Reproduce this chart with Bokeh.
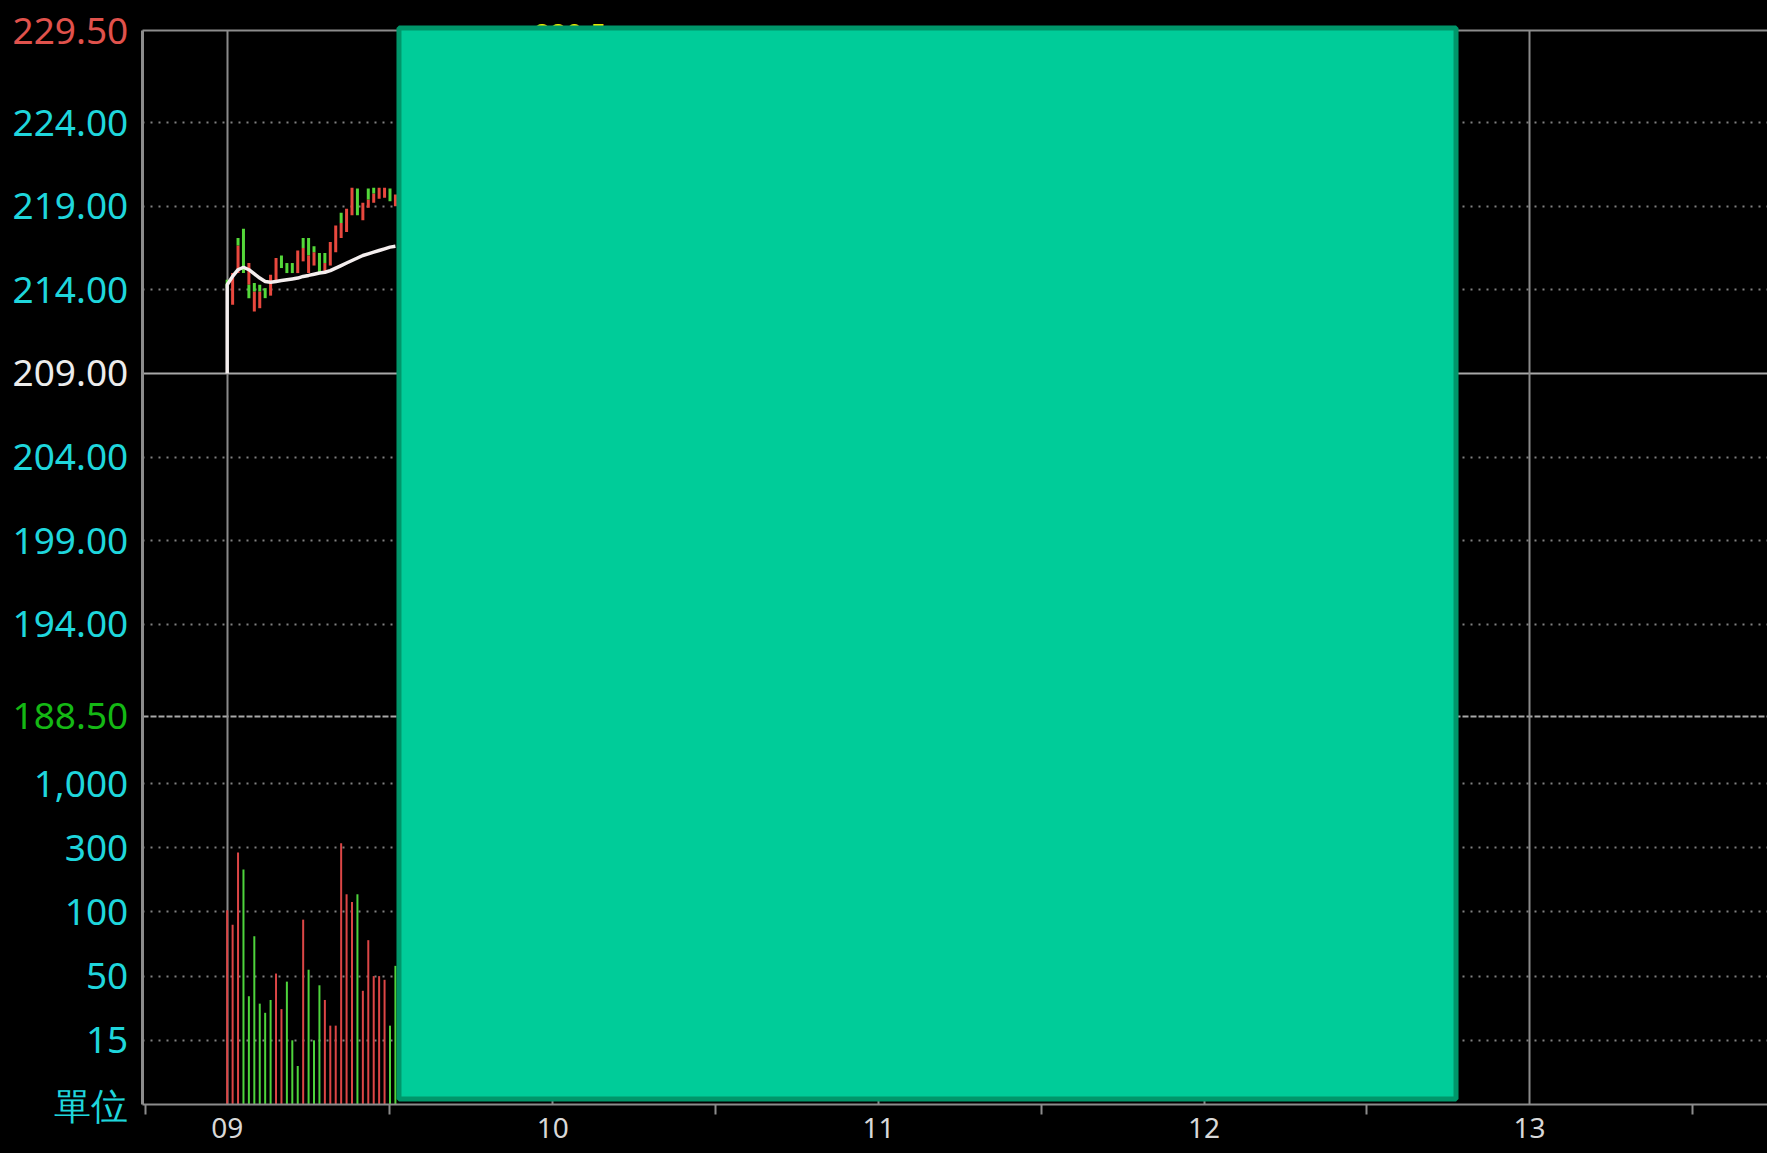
import numpy as np
from bokeh.plotting import figure
from bokeh.models import (Range1d, LinearAxis, FixedTicker, Grid, ColumnDataSource,
                          GlobalInlineStyleSheet)
from bokeh.core.properties import value
from bokeh.embed import file_html
from bokeh.resources import INLINE

# ---------------- data ----------------
ref_price = 209.00
limit_up = 229.50
limit_down = 188.50
price_grid_ticks = [224.00, 219.00, 214.00, 204.00, 199.00, 194.00]
vol_levels = [0, 15, 50, 100, 300, 1000]
vol_labels = ["單位", "15", "50", "100", "300", "1,000"]
hour_ticks = [9, 10, 11, 12, 13]
hour_labels = ["09", "10", "11", "12", "13"]
half_hour_marks = [8.75, 9.5, 10.5, 11.5, 12.5, 13.5]

# tick-price moves per minute after 09:00 (low, high, up=1 red / down=0 green)
seg_minute = [0, 1, 2, 2, 3, 4, 4, 5, 5, 6, 6, 7, 8, 9, 10, 11, 12, 13, 14, 14,
              15, 15, 16, 16, 17, 18, 18, 19, 20, 21, 21, 22, 23, 24, 25, 26, 26,
              27, 27, 28, 29, 30, 31]
seg_low = [214.10, 213.10, 215.00, 216.65, 215.00, 214.30, 213.50, 212.70, 213.90,
           212.90, 213.90, 213.50, 213.65, 214.45, 215.30, 215.00, 215.00, 215.00,
           215.70, 216.50, 216.05, 215.00, 215.45, 216.25, 215.00, 215.00, 215.60,
           215.45, 216.25, 217.10, 218.00, 217.45, 218.45, 218.45, 218.15, 218.90,
           219.40, 219.20, 219.75, 219.45, 219.50, 219.30, 219.00]
seg_high = [214.60, 215.00, 216.65, 217.10, 217.65, 215.60, 214.30, 213.90, 214.40,
            213.90, 214.30, 214.10, 214.90, 215.90, 216.05, 215.60, 215.60, 216.35,
            216.50, 217.10, 217.10, 216.05, 216.25, 216.60, 216.20, 215.60, 216.20,
            216.85, 217.85, 218.00, 218.60, 218.85, 220.10, 220.05, 219.20, 219.40,
            220.05, 219.75, 220.10, 220.10, 220.10, 220.05, 219.70]
seg_up = [0, 1, 1, 0, 0, 1, 0, 1, 0, 1, 0, 0, 1, 1, 0, 0, 0, 1, 1, 0,
          0, 1, 1, 0, 0, 1, 0, 1, 1, 1, 0, 1, 1, 0, 1, 1, 0,
          1, 0, 1, 1, 0, 1]

# average price line
avg_minute = [0, 0, 1, 2, 3, 4, 5, 6, 7, 8, 9, 10, 11, 12, 13, 14, 15, 16, 17, 18,
              19, 20, 21, 22, 23, 24, 25, 26, 27, 28, 29, 30, 31]
avg_price = [209.00, 214.30, 214.80, 215.20, 215.35, 215.20, 214.95, 214.70, 214.50,
             214.45, 214.50, 214.55, 214.60, 214.65, 214.70, 214.80, 214.86, 214.93,
             215.00, 215.05, 215.15, 215.30, 215.45, 215.60, 215.75, 215.90, 216.05,
             216.15, 216.25, 216.35, 216.45, 216.55, 216.60]

# volume per minute (lots)
vol_minute = list(range(32))
vol_lots = [105, 90, 285, 232, 39, 81, 35, 30, 37, 52, 32, 47, 15, 9, 94, 55,
            15, 45, 37, 23, 23, 350, 155, 131, 155, 42, 78, 50, 50, 48, 23, 58]
vol_up = [1, 1, 1, 0, 0, 0, 0, 0, 0, 1, 1, 0, 0, 0, 1, 0,
          0, 0, 1, 1, 1, 1, 1, 1, 0, 1, 1, 1, 1, 1, 0, 0]

day_high_text = "229.5"
day_high_hour = 10.054

mask_start_hour = 9.5276
mask_end_hour = 12.774
mask_top_price = 229.65
mask_bottom_price = 165.63

# ---------------- styling / layout ----------------
W, H = 1767, 1153
axis_x = 8.739                      # session axis start (left border)
x_start, x_end = 8.3038, 13.7306
price_px = 16.729                   # pixels per price unit
vol_px = 64.19                      # pixels per volume level
baseline_price = 165.30             # price coordinate of the bottom axis
y_end = limit_up + 30 / price_px
y_start = y_end - H / price_px
base_px_from_top = (y_end - baseline_price) * price_px
vol_start = -(H - base_px_from_top) / vol_px
vol_end = base_px_from_top / vol_px

RED = "#e8483e"
GREEN = "#54d83a"
VRED = "#dc4646"
VGREEN = "#4ed43c"
CYAN = "#1fd6dc"
GRID = "#808080"
BORDER = "#8c8c8c"
FONT = "Noto Sans"

p = figure(width=W, height=H, output_backend="svg", toolbar_location=None,
           x_range=Range1d(x_start, x_end), y_range=Range1d(y_start, y_end),
           x_axis_type=None, y_axis_type=None,
           min_border_left=0, min_border_right=0,
           min_border_top=0, min_border_bottom=0,
           background_fill_color="black", border_fill_color="black",
           outline_line_color=None)
p.extra_y_ranges = {"vol": Range1d(vol_start, vol_end)}
p.stylesheets = [GlobalInlineStyleSheet(css="body{background:#000;}")]

hb = (axis_x, x_end)
vb = (baseline_price, limit_up)
# horizontal grids
p.add_layout(Grid(dimension=1, ticker=FixedTicker(ticks=price_grid_ticks), cross_bounds=hb,
                  grid_line_color=GRID, grid_line_width=2, grid_line_dash="2 6"))
p.add_layout(Grid(dimension=1, ticker=FixedTicker(ticks=[limit_up]), cross_bounds=hb,
                  grid_line_color=BORDER, grid_line_width=2))
p.add_layout(Grid(dimension=1, ticker=FixedTicker(ticks=[ref_price]), cross_bounds=hb,
                  grid_line_color="#a8a8a8", grid_line_width=2))
p.add_layout(Grid(dimension=1, ticker=FixedTicker(ticks=[limit_down]), cross_bounds=hb,
                  grid_line_color="#a8a8a8", grid_line_width=2, grid_line_dash="6 2"))
vol_idx_ticks = list(range(1, len(vol_levels)))
p.add_layout(Grid(dimension=1, y_range_name="vol", ticker=FixedTicker(ticks=vol_idx_ticks),
                  cross_bounds=hb,
                  grid_line_color=GRID, grid_line_width=2, grid_line_dash="2 6"))
# vertical grids + left border
p.add_layout(Grid(dimension=0, ticker=FixedTicker(ticks=hour_ticks),
                  grid_line_color="#8a8a8a", grid_line_width=2, cross_bounds=vb))
p.add_layout(Grid(dimension=0, ticker=FixedTicker(ticks=[axis_x]),
                  grid_line_color=BORDER, grid_line_width=3, cross_bounds=vb))

# x axis (fixed at the volume baseline)
xaxis = LinearAxis(ticker=FixedTicker(ticks=hour_ticks, minor_ticks=half_hour_marks),
                   major_label_overrides=dict(zip(hour_ticks, hour_labels)),
                   bounds=(axis_x, x_end), fixed_location=baseline_price,
                   axis_line_color=BORDER, axis_line_width=2,
                   major_tick_line_color=None, major_tick_out=0, major_tick_in=0,
                   minor_tick_line_color=BORDER, minor_tick_line_width=2,
                   minor_tick_out=10, minor_tick_in=0,
                   major_label_standoff=3, major_label_text_color="#d8d8d8",
                   major_label_text_font=FONT, major_label_text_font_size="28px")
p.add_layout(xaxis, "below")

# y labels (coloured per level)
px_per_hour = W / (x_end - x_start)
label_x = axis_x - 14 / px_per_hour
price_label_vals = [limit_up] + price_grid_ticks[:3] + [ref_price] + price_grid_ticks[3:] + [limit_down]
price_label_cols = ["#e0524c", CYAN, CYAN, CYAN, "#ececec", CYAN, CYAN, CYAN, "#14b814"]
p.text(x=[label_x] * len(price_label_vals), y=price_label_vals,
       text=[f"{v:.2f}" for v in price_label_vals], text_color=price_label_cols,
       text_font=value(FONT), text_font_size=value("37px"),
       text_align="right", text_baseline="middle")
p.text(x=[label_x] * len(vol_labels), y=list(range(len(vol_labels))), text=vol_labels,
       text_color=CYAN, text_font=value(FONT), text_font_size=value("37px"),
       text_align="right", text_baseline="middle", y_range_name="vol")

# price tick segments
seg_t = [9 + m / 60 for m in seg_minute]
seg_src = ColumnDataSource(dict(x=seg_t, y0=seg_low, y1=seg_high,
                                c=[RED if u else GREEN for u in seg_up]))
p.segment(x0="x", y0="y0", x1="x", y1="y1", line_color="c", line_width=3, source=seg_src)

# average line
p.line([9 + m / 60 for m in avg_minute], avg_price, line_color="#f4eeee", line_width=3.5)

# volume bars
vol_idx = np.interp(vol_lots, vol_levels, np.arange(len(vol_levels)))
vol_src = ColumnDataSource(dict(x=[9 + m / 60 for m in vol_minute],
                                top=vol_idx, bottom=np.zeros(len(vol_idx)),
                                c=[VRED if u else VGREEN for u in vol_up]))
p.segment(x0="x", y0="bottom", x1="x", y1="top", line_color="c", line_width=2,
          source=vol_src, y_range_name="vol")

# day high text (mostly hidden behind the mask)
p.text(x=[day_high_hour], y=[limit_up], y_offset=3, text=[day_high_text],
       text_color="#e4e400", text_font=value(FONT), text_font_size=value("28px"),
       text_align="center", text_baseline="middle")

# mask box
mask = p.quad(left=[mask_start_hour], right=[mask_end_hour], top=[mask_top_price],
              bottom=[mask_bottom_price], fill_color="#00cc99", line_color="#00966a",
              line_width=5)
mask.level = "overlay"

open("out.html", "w").write(file_html(p, INLINE))
